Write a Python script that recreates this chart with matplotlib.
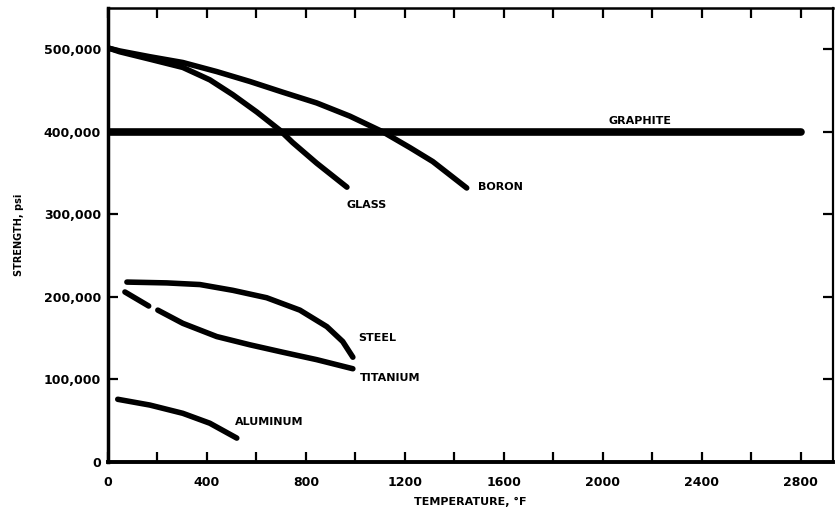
import numpy as np
import matplotlib.pyplot as plt
from matplotlib.ticker import FuncFormatter, MultipleLocator

# curvas (temperatura en F, resistencia en psi)
glass_t = [8, 48, 170, 303, 412, 505, 602, 695, 747, 844, 966]
glass_s = [501000, 497000, 488000, 478000, 463000, 445000, 424000, 402000, 387000, 362000, 333000]

boron_t = [8, 48, 170, 303, 440, 574, 707, 844, 978, 1111, 1220, 1313, 1450]
boron_s = [501000, 498000, 491000, 484000, 473000, 461000, 448000, 435000, 419000, 400000, 381000, 364000, 332000]

graphite_t = [0, 2800]
graphite_s = [400000, 400000]

steel_t = [77, 238, 372, 505, 642, 776, 885, 949, 990]
steel_s = [218000, 217000, 215000, 208000, 199000, 184000, 164000, 146000, 127000]

# el trazo del titanio tiene un corte en la figura original
titanium_t = [69, 165, np.nan, 202, 303, 440, 574, 707, 844, 990]
titanium_s = [206000, 189000, np.nan, 184000, 168000, 152000, 142000, 133000, 124000, 113000]

aluminum_t = [40, 170, 303, 412, 521]
aluminum_s = [76000, 69000, 59000, 47000, 29000]

xticks = [0, 400, 800, 1200, 1600, 2000, 2400, 2800]
yticks = [0, 100000, 200000, 300000, 400000, 500000]

fig = plt.figure(figsize=(8.36, 5.21), dpi=100)
ax = fig.add_axes([0.129, 0.1132, 0.8674, 0.8714])

kw = dict(color='black', solid_capstyle='round', solid_joinstyle='round')
ax.plot(graphite_t, graphite_s, lw=5.5, **kw)
ax.plot(glass_t, glass_s, lw=4.0, **kw)
ax.plot(boron_t, boron_s, lw=4.0, **kw)
ax.plot(steel_t, steel_s, lw=4.0, **kw)
ax.plot(titanium_t, titanium_s, lw=4.0, **kw)
ax.plot(aluminum_t, aluminum_s, lw=4.0, **kw)

bold = dict(fontweight='bold', fontsize=8, color='black')
ax.text(1046, 311000, 'GLASS', ha='center', va='center', **bold)
ax.text(1495, 333000, 'BORON', ha='left', va='center', **bold)
ax.text(2150, 413000, 'GRAPHITE', ha='center', va='center', **bold)
ax.text(1010, 150000, 'STEEL', ha='left', va='center', **bold)
ax.text(1020, 102000, 'TITANIUM', ha='left', va='center', **bold)
ax.text(515, 49000, 'ALUMINUM', ha='left', va='center', **bold)

ax.set_xlim(0, 2930)
ax.set_ylim(0, 550000)
ax.set_xticks(xticks)
ax.xaxis.set_minor_locator(MultipleLocator(200))
ax.set_yticks(yticks)
ax.yaxis.set_major_formatter(FuncFormatter(lambda v, p: '{:,.0f}'.format(v)))

ax.tick_params(which='both', direction='in', top=True, right=True,
               length=7, width=1.6, labelsize=9)
ax.tick_params(axis='x', pad=10)
ax.tick_params(axis='y', pad=5)
for lab in ax.get_xticklabels() + ax.get_yticklabels():
    lab.set_fontweight('bold')

ax.spines['left'].set_linewidth(2.5)
ax.spines['bottom'].set_linewidth(2.8)
ax.spines['top'].set_linewidth(1.8)
ax.spines['right'].set_linewidth(1.6)

ax.set_xlabel('TEMPERATURE, \u00b0F', fontweight='bold', fontsize=8, labelpad=6)
ax.set_ylabel('STRENGTH, psi', fontweight='bold', fontsize=7, labelpad=14)

fig.savefig('out.png', dpi=100)
